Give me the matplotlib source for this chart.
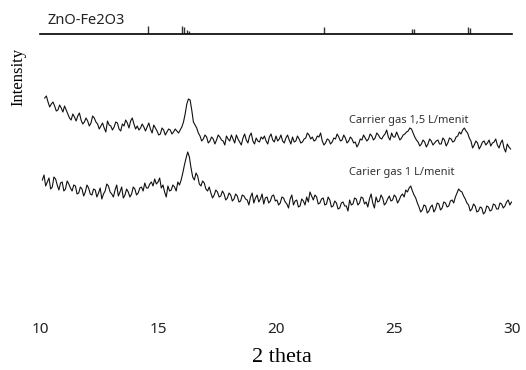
import matplotlib
matplotlib.use('Agg')
import matplotlib.pyplot as plt
import numpy as np

# reference pattern ZnO-Fe2O3 (stick positions, relative height)
ref_pos = [14.59, 16.03, 16.11, 16.23, 16.33, 22.05, 25.78, 25.86, 28.15, 28.23]
ref_int = [100, 100, 88, 50, 38, 88, 62, 62, 88, 75]

# Carrier gas 1,5 L/menit: start 10.2, step 0.07 deg
start_15, step_15 = 10.2, 0.07
int_15 = [217, 219, 213, 208, 211, 213, 209, 204, 205, 210, 207, 203, 209, 205, 201, 197, 195, 201, 198, 194,
          199, 202, 195, 191, 193, 197, 194, 189, 192, 199, 197, 193, 191, 186, 189, 192, 187, 183, 194, 190,
          189, 185, 188, 193, 192, 186, 184, 191, 189, 195, 192, 187, 194, 197, 191, 186, 189, 185, 187, 191,
          188, 184, 188, 192, 186, 182, 190, 187, 184, 180, 181, 187, 185, 180, 183, 186, 185, 181, 183, 186,
          184, 182, 185, 188, 193, 201, 211, 216, 215, 205, 193, 190, 187, 182, 179, 174, 176, 180, 178, 172,
          174, 178, 176, 171, 175, 180, 178, 175, 174, 170, 179, 176, 174, 180, 176, 172, 180, 176, 173, 170,
          177, 181, 175, 172, 179, 182, 174, 171, 177, 174, 173, 178, 176, 179, 174, 171, 178, 181, 175, 173,
          179, 174, 176, 180, 174, 172, 177, 180, 175, 171, 178, 173, 174, 179, 176, 172, 173, 176, 177, 182,
          180, 176, 178, 174, 175, 179, 178, 182, 174, 170, 172, 176, 175, 171, 173, 177, 176, 181, 178, 174,
          175, 180, 177, 172, 174, 178, 176, 172, 173, 168, 171, 176, 175, 180, 177, 174, 176, 181, 179, 175,
          177, 182, 180, 177, 176, 179, 181, 185, 178, 175, 182, 178, 178, 183, 179, 175, 177, 180, 181, 183,
          184, 187, 186, 182, 178, 175, 173, 169, 171, 175, 173, 168, 171, 176, 174, 170, 172, 174, 175, 171,
          171, 177, 175, 169, 172, 177, 176, 173, 174, 178, 179, 183, 181, 185, 187, 184, 182, 177, 174, 167,
          170, 174, 172, 166, 169, 173, 174, 170, 172, 175, 169, 172, 173, 176, 170, 167, 172, 175, 167, 163,
          171, 168, 166]

# Carier gas 1 L/menit: start 10.1, step 0.07 deg
start_10, step_10 = 10.1, 0.07
int_10 = [135, 140, 129, 133, 137, 126, 128, 138, 136, 130, 125, 132, 133, 124, 126, 134, 131, 127, 124, 130,
          129, 121, 122, 128, 126, 119, 123, 130, 127, 121, 120, 126,
          125, 118, 122, 127, 116, 121, 124, 131, 129, 123, 121, 118, 125, 130, 119, 123, 128, 117, 120, 126,
          123, 118, 121, 128, 126, 120, 122, 127, 128, 124, 132, 127,
          127, 131, 133, 129, 136, 131, 133, 137, 127, 130, 123, 118, 129, 124, 125, 130, 128, 124, 133, 130,
          135, 142, 150, 157, 163, 158, 147, 138, 135, 142, 139, 131,
          129, 134, 132, 126, 124, 128, 122, 117, 120, 125, 123, 118, 119, 124, 121, 115, 117, 122, 120, 114,
          116, 121, 119, 113, 114, 120, 119, 116, 115, 110, 118, 122,
          112, 117, 120, 113, 116, 121, 111, 117, 118, 112, 114, 119, 120, 114, 115, 110, 112, 118, 117, 113,
          111, 107, 116, 120, 110, 114, 115, 108, 109, 116, 114, 110,
          118, 113, 123, 119, 115, 120, 118, 111, 112, 116, 117, 110, 111, 118, 115, 108, 109, 114, 112, 106,
          107, 112, 113, 109, 109, 104, 115, 110, 111, 117, 116, 110,
          112, 118, 117, 111, 113, 108, 116, 121, 112, 107, 118, 113, 114, 120, 117, 110, 112, 116, 119, 114,
          115, 120, 118, 112, 115, 119, 121, 118, 125, 123, 127, 129,
          124, 120, 117, 112, 108, 103, 105, 110, 109, 102, 104, 108, 110, 103, 106, 112, 111, 105, 107, 113,
          112, 108, 109, 114, 115, 112, 118, 122, 126, 124, 123, 119,
          116, 112, 110, 104, 106, 111, 109, 103, 104, 108, 107, 101, 103, 109, 108, 104, 105, 111, 110, 106,
          106, 112, 111, 107, 109, 113, 115, 110, 113]

x_15 = start_15 + step_15 * np.arange(len(int_15))
x_10 = start_10 + step_10 * np.arange(len(int_10))

W, H = 526, 370
fig = plt.figure(figsize=(W / 100, H / 100), dpi=100)

# main axes: x 10..30 spans px 40..512, intensity = 315 - pixel row
ax = fig.add_axes([40 / W, 55 / H, 472 / W, 275 / H])
ax.plot(x_15, int_15, color='#111111', linewidth=0.8)
ax.plot(x_10, int_10, color='#111111', linewidth=0.8)
ax.set_xlim(10, 30)
ax.set_ylim(0, 275)
ax.set_xticks([10, 15, 20, 25, 30])
ax.set_yticks([])
ax.tick_params(axis='x', length=0, pad=5, labelsize=11, labelcolor='#222222')
for lab in ax.get_xticklabels():
    lab.set_family('Noto Sans')
for s in ax.spines.values():
    s.set_visible(False)

ax.text(23.1, 195, 'Carrier gas 1,5 L/menit', fontsize=8, family='Noto Sans',
        color='#333333', va='center')
ax.text(23.1, 143, 'Carier gas 1 L/menit', fontsize=8, family='Noto Sans',
        color='#333333', va='center')

# reference stick pattern on top
ax_ref = fig.add_axes([40 / W, (H - 34) / H, 472 / W, 12 / H])
ax_ref.vlines(ref_pos, 0, ref_int, color='#333333', linewidth=1.0)
ax_ref.set_xlim(10, 30)
ax_ref.set_ylim(0, 150)
ax_ref.set_xticks([])
ax_ref.set_yticks([])
for k in ['top', 'left', 'right']:
    ax_ref.spines[k].set_visible(False)
ax_ref.spines['bottom'].set_linewidth(1.2)
fig.text(48 / W, 1 - 20 / H, 'ZnO-Fe2O3', fontsize=10.5, family='Noto Sans',
         color='#222222', va='center')

fig.text(18 / W, 1 - 77 / H, 'Intensity', rotation=90, fontsize=12,
         family='Liberation Serif', ha='center', va='center')
fig.text(282 / W, 1 - 357 / H, '2 theta', fontsize=16, family='Liberation Serif',
         ha='center', va='center')

plt.savefig('out.png', dpi=100)
plt.close()
